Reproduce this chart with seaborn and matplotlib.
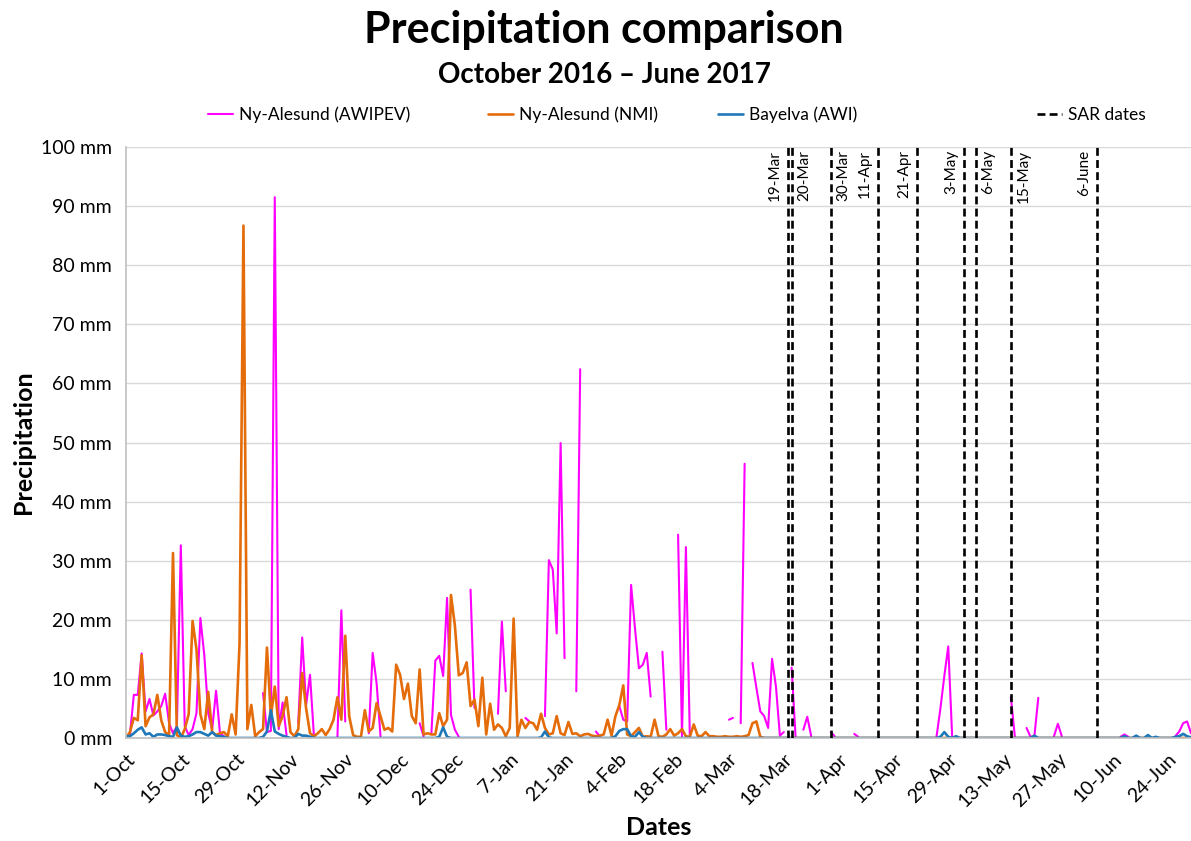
import numpy as np
import pandas as pd
import matplotlib
matplotlib.use("Agg")
import matplotlib.pyplot as plt
from matplotlib.lines import Line2D
import seaborn as sns

N = np.nan

# ---------------- data (daily, 1 Oct 2016 - 30 Jun 2017) ----------------
start_date = "2016-10-01"
end_date = "2017-06-30"

# Ny-Alesund (AWIPEV)
awipev = [
    # Oct
    0.3, 0.5, 7.3, 7.3, 14.3, 4.5, 6.6, 3.8, 4.5, 5.4, 7.5, 2.5, 0.8, 2.0, 32.6, 2.0,
    0.5, 1.5, 4.2, 20.3, 14.0, 4.2, 1.4, 8.0, 0.8, 0.3, N, N, N, N, N,
    # Nov
    N, N, N, N, 7.6, 1.0, 1.2, 91.5, 1.5, 6.0, 0.5, N, N, 2.5, 17.0, 5.6, 10.7, 0.3,
    N, N, N, N, N, 0.2, 21.6, 2.8, N, N, N, N,
    # Dec
    N, 0.8, 14.4, 9.3, 0.3, N, N, N, N, N, N, N, N, N, 2.5, 0.3, N, 0.8, 13.1, 13.9,
    10.5, 23.7, 3.9, 1.4, 0.2, N, N, 25.1, 5.1, N, N,
    # Jan
    N, N, N, 4.1, 19.7, 7.9, N, N, N, N, 3.4, 2.8, N, N, N, 3.7, 30.1, 28.5, 17.7,
    49.9, 13.5, N, N, 7.9, 62.4, N, N, N, 1.1, 0.3, N,
    # Feb
    N, N, N, 5.4, 3.1, 2.8, 25.9, 18.5, 11.8, 12.4, 14.4, 7.0, N, N, 14.6, 1.4, N, N,
    34.4, 0.3, 32.3, 0.3, N, N, N, N, N, N,
    # Mar
    N, N, N, 3.1, 3.4, N, 2.5, 46.4, N, 12.7, 8.5, 4.5, 3.7, 1.7, 13.4, 8.7, 0.4, 1.0,
    N, 11.9, 0.3, N, 1.4, 3.6, 0.3, N, N, N, N, 1.0, 0.3,
    # Apr
    N, N, N, N, 0.7, 0.2, N, N, N, N, N, N, N, N, N, N, N, N, N, N, N, N, N, N, N,
    0.2, 5.0, 10.5, 15.5, 0.3,
    # May
    N, N, N, N, N, N, N, N, N, N, N, N, N, N, 6.9, 0.3, N, N, 1.7, 0.2, 0.3, 6.8,
    N, N, N, 0.3, 2.4, 0.3, N, N, N,
    # Jun
    N, N, N, N, N, N, N, N, N, N, N, 0.2, 0.6, 0.2, N, N, N, N, N, N, N, N, N, N, N,
    0.3, 1.1, 2.5, 2.8, 0.8,
]

# Ny-Alesund (NMI)
nmi = [
    # Oct
    0.0, 1.0, 3.4, 3.0, 14.0, 2.0, 3.5, 4.0, 7.3, 3.0, 1.0, 0.5, 31.3, 0.5, 0.0, 1.5,
    4.0, 19.8, 15.0, 4.0, 1.5, 7.8, 1.0, 0.5, 0.8, 1.0, 0.3, 4.0, 0.6, 16.0, 86.7,
    # Nov
    1.5, 5.6, 0.3, 1.0, 1.5, 15.3, 3.7, 8.7, 2.0, 3.7, 6.9, 1.0, 0.3, 1.5, 11.0, 5.0,
    0.8, 0.3, 0.8, 1.5, 0.5, 1.5, 3.1, 6.9, 3.1, 17.3, 3.7, 0.5, 0.2, 0.2,
    # Dec
    4.7, 1.1, 1.7, 5.9, 3.7, 1.4, 1.7, 1.1, 12.4, 10.7, 6.6, 9.2, 3.7, 2.5, 11.6, 0.6,
    0.8, 0.6, 0.6, 4.2, 2.0, 3.1, 24.2, 19.0, 10.6, 11.0, 12.8, 5.4, 6.5, 2.0, 10.2,
    # Jan
    0.6, 5.8, 1.4, 2.3, 1.7, 0.3, 1.7, 20.2, 0.3, 3.1, 1.7, 2.7, 2.5, 1.4, 4.1, 1.7,
    0.6, 0.8, 3.7, 0.8, 0.5, 2.7, 0.7, 0.8, 0.3, 0.6, 0.7, 0.4, 0.3, 0.4, 0.6,
    # Feb
    3.1, 0.4, 3.7, 5.6, 8.9, 0.6, 0.3, 1.0, 1.7, 0.2, 0.3, 0.2, 3.1, 0.3, 0.2, 0.6,
    1.5, 0.4, 0.8, 1.5, 0.3, 0.2, 2.3, 0.4, 0.3, 1.0, 0.3, 0.3,
    # Mar
    0.2, 0.2, 0.3, 0.2, 0.2, 0.3, 0.2, 0.3, 0.5, 2.5, 2.8, 0.2, 0, 0, 0, 0, 0, 0, 0,
    0, 0, 0, 0, 0, 0, 0, 0, 0, 0, 0, 0,
    # Apr
    0, 0, 0, 0, 0, 0, 0, 0, 0, 0, 0, 0, 0, 0, 0, 0, 0, 0, 0, 0, 0, 0, 0, 0, 0, 0, 0,
    0, 0, 0,
    # May
    0, 0, 0, 0, 0, 0, 0, 0, 0, 0, 0, 0, 0, 0, 0, 0, 0, 0, 0, 0, 0, 0, 0, 0, 0, 0, 0,
    0, 0, 0, 0,
    # Jun
    0, 0, 0, 0, 0, 0, 0, 0, 0, 0, 0, 0, 0, 0, 0, 0, 0, 0, 0, 0, 0, 0, 0, 0, 0, 0, 0,
    0, 0, 0,
]

# Bayelva (AWI)
bayelva = [
    # Oct
    0.3, 0.3, 0.8, 1.4, 1.8, 0.6, 0.8, 0.2, 0.6, 0.6, 0.5, 0.3, 0.2, 1.8, 0.4, 0.2,
    0.3, 0.6, 1.0, 1.0, 0.7, 0.4, 1.0, 0.4, 0.3, 0.2, 0, 0, 0, 0, 0,
    # Nov
    0, 0, 0, 0, 0.2, 1.1, 4.7, 1.1, 0.7, 0.4, 0.2, 0, 0, 0.7, 0.4, 0.4, 0.2, 0, 0, 0,
    0, 0, 0, 0, 0, 0, 0, 0, 0, 0,
    # Dec
    0, 0, 0, 0, 0, 0, 0, 0, 0, 0, 0, 0, 0, 0, 0, 0, 0, 0, 0, 0.2, 1.8, 0.2, 0, 0, 0,
    0, 0, 0, 0, 0, 0,
    # Jan
    0, 0, 0, 0, 0, 0, 0, 0, 0, 0, 0, 0, 0, 0, 0.1, 1.1, 0.1, 0, 0, 0, 0, 0, 0, 0, 0,
    0, 0, 0, 0, 0, 0,
    # Feb
    0, 0, 0.3, 1.2, 1.5, 1.5, 0.3, 0.2, 1.0, 0.2, 0, 0, 0, 0, 0, 0, 0, 0, 0, 0, 0, 0,
    0, 0, 0, 0, 0, 0,
    # Mar
    0, 0, 0, 0, 0, 0, 0, 0, 0, 0, 0, 0, 0, 0, 0, 0, 0, 0, 0, 0, 0, 0, 0, 0, 0, 0, 0,
    0, 0, 0, 0,
    # Apr
    0, 0, 0, 0, 0, 0, 0, 0, 0, 0, 0, 0, 0, 0, 0, 0, 0, 0, 0, 0, 0, 0, 0, 0, 0, 0, 0.2,
    1.0, 0.2, 0,
    # May
    0.3, 0, 0, 0, 0, 0, 0, 0, 0, 0, 0, 0, 0, 0, 0, 0, 0, 0, 0, 0, 0.4, 0, 0, 0, 0, 0,
    0, 0, 0, 0, 0,
    # Jun
    0, 0, 0, 0, 0, 0, 0, 0, 0, 0, 0, 0, 0.3, 0, 0, 0.4, 0, 0, 0.5, 0, 0.2, 0, 0, 0,
    0, 0.2, 0.3, 0.7, 0.3, 0.1,
]

series_names = ["Ny-Alesund (AWIPEV)", "Ny-Alesund (NMI)", "Bayelva (AWI)"]
series_colors = ["#FF00FF", "#E46C0A", "#1F78B8"]
series_widths = [1.5, 1.9, 1.9]

sar_dates = ["2017-03-19", "2017-03-20", "2017-03-30", "2017-04-11", "2017-04-21",
             "2017-05-03", "2017-05-06", "2017-05-15", "2017-06-06"]
sar_labels = ["19-Mar", "20-Mar", "30-Mar", "11-Apr", "21-Apr", "3-May", "6-May",
              "15-May", "6-June"]
sar_label_side = ["left", "right", "right", "left", "left", "left", "right", "right", "left"]

y_ticks = [0, 10, 20, 30, 40, 50, 60, 70, 80, 90, 100]
y_tick_labels = [f"{v} mm" for v in y_ticks]

# ---------------- build frame ----------------
dates = pd.date_range(start_date, end_date, freq="D")
frames = []
for name, vals in zip(series_names, [awipev, nmi, bayelva]):
    s = pd.Series(vals, index=dates, dtype=float)
    seg = s.isna().cumsum()
    df = pd.DataFrame({"date": dates, "value": s.values, "seg": seg.values, "series": name})
    frames.append(df.dropna(subset=["value"]))
data = pd.concat(frames, ignore_index=True)

# ---------------- style ----------------
sns.set_theme(style="white")
plt.rcParams["font.family"] = ["Lato", "DejaVu Sans"]
plt.rcParams["axes.unicode_minus"] = False
plt.rcParams["text.color"] = "black"

fig = plt.figure(figsize=(11.91, 8.41), dpi=100)
ax = fig.add_axes([126 / 1191, 103 / 841, 1065 / 1191, 591 / 841])

for name, col, lw in zip(series_names, series_colors, series_widths):
    sub = data[data["series"] == name]
    sns.lineplot(data=sub, x="date", y="value", units="seg", estimator=None,
                 color=col, linewidth=lw, ax=ax, legend=False)

for d, lab, side in zip(sar_dates, sar_labels, sar_label_side):
    ts = pd.Timestamp(d)
    ax.axvline(ts, color="black", linewidth=1.9, dashes=(3.0, 1.6), zorder=5)
    off = -4 if side == "left" else 4
    ax.annotate(lab, xy=(ts, 100), xytext=(off, -2), textcoords="offset points",
                rotation=90, ha="right" if side == "left" else "left", va="top",
                fontsize=11, color="black")

ax.set_xlim(pd.Timestamp(start_date), pd.Timestamp(end_date))
ax.set_ylim(0, 100)
ax.set_yticks(y_ticks)
ax.set_yticklabels(y_tick_labels, fontsize=14, color="black")

xt = pd.date_range(start_date, end_date, freq="14D")
ax.set_xticks(xt)
ax.set_xticklabels([f"{t.day}-{t.strftime('%b')}" for t in xt], rotation=45,
                   ha="right", rotation_mode="anchor", fontsize=14, color="black")
ax.tick_params(axis="x", length=5, width=1, color="#BFBFBF", direction="out", pad=4)
ax.tick_params(axis="y", length=0, pad=10)

ax.yaxis.grid(True, color="#D9D9D9", linewidth=1)
ax.xaxis.grid(False)
for sp in ["top", "right"]:
    ax.spines[sp].set_visible(False)
for sp in ["left", "bottom"]:
    ax.spines[sp].set_color("#BFBFBF")
    ax.spines[sp].set_linewidth(1.2)

ax.set_xlabel("Dates", fontsize=18, weight="bold", color="black")
ax.set_ylabel("Precipitation", fontsize=18, weight="bold", color="black")
ax.xaxis.set_label_coords(0.5, -0.132)
ax.yaxis.set_label_coords(-0.085, 0.5)

fig.text(604 / 1191, 1 - 30 / 841, "Precipitation comparison", ha="center",
         va="center", fontsize=31, weight="bold", color="black")
fig.text(604 / 1191, 1 - 75 / 841, "October 2016 \u2013 June 2017", ha="center",
         va="center", fontsize=20, weight="bold", color="black")

# legend: one entry per block, placed like the reference
handles = [Line2D([0], [0], color=c, lw=lw) for c, lw in zip(series_colors, series_widths)]
handles.append(Line2D([0], [0], color="black", lw=1.9, dashes=(3.0, 1.6)))
legend_labels = series_names + ["SAR dates"]
legend_x = [208, 488, 718, 1037]
for h, lab, lx in zip(handles, legend_labels, legend_x):
    fig.legend([h], [lab], loc="center left", bbox_to_anchor=(lx / 1191, 1 - 115 / 841),
               frameon=False, fontsize=12.5, handlelength=1.45, handletextpad=0.35,
               borderpad=0, borderaxespad=0)

fig.savefig("out.png", dpi=100)
